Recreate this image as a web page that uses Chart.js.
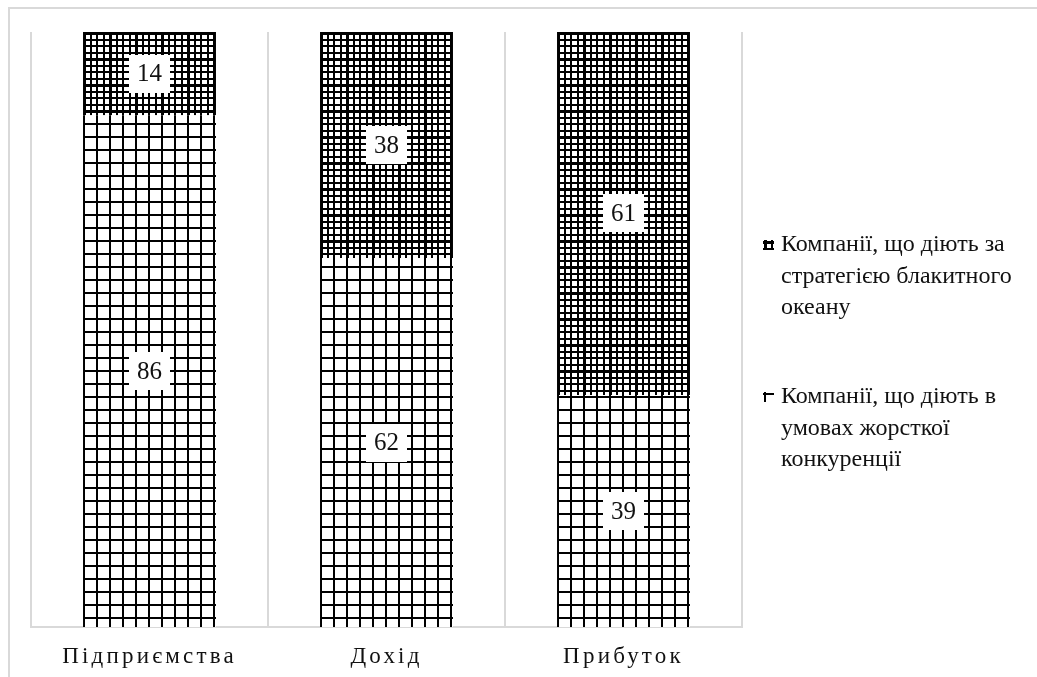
<!DOCTYPE html>
<html><head><meta charset="utf-8">
<script src="https://cdn.jsdelivr.net/npm/chart.js@4/dist/chart.umd.min.js"></script>
<style>html,body{margin:0;padding:0;background:#fff}#wrap{width:1037px;height:677px}</style>
</head><body><div id="wrap"><canvas id="c" width="1037" height="677"></canvas></div>
<script>
const categories = ['Підприємства', 'Дохід', 'Прибуток'];
const seriesNames = [
  'Компанії, що діють в умовах жорсткої конкуренції',
  'Компанії, що діють за стратегією блакитного океану'
];
const competitionValues = [86, 62, 39];
const blueOceanValues = [14, 38, 61];

const BAR_FRAC = 0.561;
const SERIF = '"Liberation Serif", "Times New Roman", serif';

function coarseCanvas() {
  const c = document.createElement('canvas'); c.width = 13; c.height = 13;
  const g = c.getContext('2d');
  g.fillStyle = '#fff'; g.fillRect(0, 0, 13, 13);
  g.fillStyle = '#000'; g.fillRect(0, 0, 2, 13); g.fillRect(0, 0, 13, 2);
  return c;
}
function fineCanvas() {
  const c = document.createElement('canvas'); c.width = 26; c.height = 26;
  const g = c.getContext('2d');
  g.fillStyle = '#fff'; g.fillRect(0, 0, 26, 26);
  g.fillStyle = '#000';
  [0, 7, 13, 20].forEach(p => { g.fillRect(p, 0, 2, 26); g.fillRect(0, p, 26, 2); });
  g.fillRect(0, 0, 3, 26); g.fillRect(0, 0, 26, 3);
  return c;
}
const srcCoarse = coarseCanvas();
const srcFine = fineCanvas();

function barFill(src) {
  return (ctx) => {
    const chart = ctx.chart;
    const p = chart.ctx.createPattern(src, 'repeat');
    const xs = chart.scales.x;
    if (xs && chart.chartArea && ctx.dataIndex !== undefined) {
      const cw = xs.width / categories.length;
      const left = xs.getPixelForValue(ctx.dataIndex) - cw * BAR_FRAC / 2;
      p.setTransform(new DOMMatrix().translate(Math.round(left), chart.chartArea.top));
    }
    return p;
  };
}

function wrapText(g, text, maxW) {
  const words = text.split(' ');
  const lines = []; let cur = '';
  words.forEach(w => {
    const t = cur ? cur + ' ' + w : w;
    if (g.measureText(t).width > maxW && cur) { lines.push(cur); cur = w; } else cur = t;
  });
  if (cur) lines.push(cur);
  return lines;
}

const framePlugin = {
  id: 'frame',
  beforeDraw(chart) {
    const g = chart.ctx;
    g.save();
    g.fillStyle = '#d9d9d9';
    g.fillRect(8, 7, chart.width - 8, 2);
    g.fillRect(8, 7, 2, chart.height - 7);
    g.restore();
    g.letterSpacing = '3.2px';
  },
  beforeDatasetsDraw(chart) { chart.ctx.letterSpacing = '0px'; }
};

const labelPlugin = {
  id: 'boxLabels',
  afterDatasetsDraw(chart) {
    const g = chart.ctx;
    g.save();
    g.font = '25px ' + SERIF;
    g.textAlign = 'center'; g.textBaseline = 'middle';
    chart.data.datasets.forEach((ds, i) => {
      const meta = chart.getDatasetMeta(i);
      meta.data.forEach((bar, j) => {
        const { x, y, base } = bar.getProps(['x', 'y', 'base'], true);
        const cy = (y + base) / 2;
        const txt = String(ds.data[j]);
        const w = g.measureText(txt).width + 16, h = 38;
        g.fillStyle = '#fff';
        g.fillRect(Math.round(x - w / 2), Math.round(cy - h / 2), Math.round(w), h);
        g.fillStyle = '#111';
        g.fillText(txt, x, cy + 1);
      });
    });
    g.restore();
  }
};

const legendPlugin = {
  id: 'sideLegend',
  afterDraw(chart) {
    const g = chart.ctx;
    g.save();
    g.font = '24px ' + SERIF;
    g.textBaseline = 'middle'; g.textAlign = 'left';
    const entries = [{ ds: 1, y0: 245, src: srcFine }, { ds: 0, y0: 397, src: srcCoarse }];
    entries.forEach(e => {
      const p = g.createPattern(e.src, 'repeat');
      p.setTransform(new DOMMatrix().translate(764, e.y0 - 4));
      g.fillStyle = p;
      g.fillRect(763, e.y0 - 5, 11, 10);
      const lines = wrapText(g, chart.data.datasets[e.ds].label, 240);
      g.fillStyle = '#111';
      lines.forEach((ln, k) => g.fillText(ln, 781, e.y0 + k * 31.5));
    });
    g.restore();
  }
};

new Chart(document.getElementById('c'), {
  type: 'bar',
  data: {
    labels: categories,
    datasets: [
      { label: seriesNames[0], data: competitionValues, backgroundColor: barFill(srcCoarse), borderWidth: 0 },
      { label: seriesNames[1], data: blueOceanValues, backgroundColor: barFill(srcFine), borderWidth: 0 }
    ]
  },
  options: {
    responsive: false,
    animation: false,
    devicePixelRatio: 1,
    layout: { padding: { left: 31, top: 32, right: 295, bottom: 0 } },
    datasets: { bar: { categoryPercentage: 1, barPercentage: BAR_FRAC } },
    plugins: { legend: { display: false }, tooltip: { enabled: false } },
    scales: {
      x: {
        stacked: true,
        grid: { color: '#d9d9d9', lineWidth: 2, drawTicks: false, offset: true },
        border: { display: true, color: '#d9d9d9', width: 2 },
        ticks: { font: { family: SERIF, size: 23 }, color: '#111', padding: 16, maxRotation: 0, autoSkip: false },
        afterFit(scale) { scale.height = 50; }
      },
      y: { stacked: true, display: false, min: 0, max: 100 }
    }
  },
  plugins: [framePlugin, labelPlugin, legendPlugin]
});
</script>
</body></html>
